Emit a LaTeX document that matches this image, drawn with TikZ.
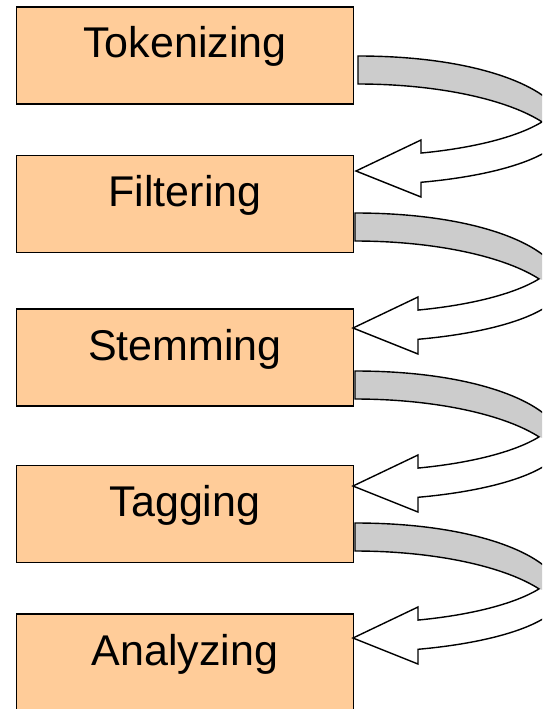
\documentclass[tikz,border=0pt]{standalone}
\usepackage{fontspec}
\setmainfont{Liberation Sans}
\definecolor{boxfill}{HTML}{FFCC99}
\definecolor{bandgray}{HTML}{CCCCCC}
\tikzset{
  stagebox/.style={draw=black, line width=1.8pt, fill=boxfill, inner sep=0pt,
    minimum width=337pt, text height=51pt, text depth=46pt,
    font=\fontsize{43}{51}\selectfont},
  arrowline/.style={draw=black, line width=1.4pt, line join=miter}
}
\newcommand\cvarrow[2]{%
  \begin{scope}[shift={(#1,#2)}]
    \path[save path=\arrowpath]
      (0,0) .. controls (130,0) and (207,37) .. (207,72)
      -- plot[domain=0:72.28,samples=40,variable=\t]({207*cos(\t)},{72+57*sin(\t)})
      -- (63,141) -- (-2,115) -- (63,84)
      -- plot[domain=72:25.7,samples=40,variable=\t]({204*cos(\t)},{40+60*sin(\t)})
      -- plot[domain=-28.3:-90,samples=40,variable=\t]({209*cos(\t)},{100+72*sin(\t)})
      -- cycle;
    \fill[white, use path=\arrowpath];
    \fill[bandgray]
      (0,0) .. controls (130,0) and (207,37) .. (207,72)
      -- (184,66)
      -- plot[domain=-28.3:-90,samples=40,variable=\t]({209*cos(\t)},{100+72*sin(\t)})
      -- cycle;
    \draw[arrowline, use path=\arrowpath];
  \end{scope}}
\begin{document}
\begin{tikzpicture}[x=1pt,y=-1pt]
  \useasboundingbox (0,0) rectangle (542,709);
  \clip (0,0) rectangle (542,709);
  \node[stagebox] (b1) at (185,55.5) {Tokenizing};
  \node[stagebox] (b2) at (185,204) {Filtering};
  \node[stagebox] (b3) at (185,357.5) {Stemming};
  \node[stagebox] (b4) at (185,514) {Tagging};
  \node[stagebox] (b5) at (185,662.5) {Analyzing};
  \cvarrow{358}{56}
  \cvarrow{355}{213}
  \cvarrow{355}{371}
  \cvarrow{355}{523}
\end{tikzpicture}
\end{document}
